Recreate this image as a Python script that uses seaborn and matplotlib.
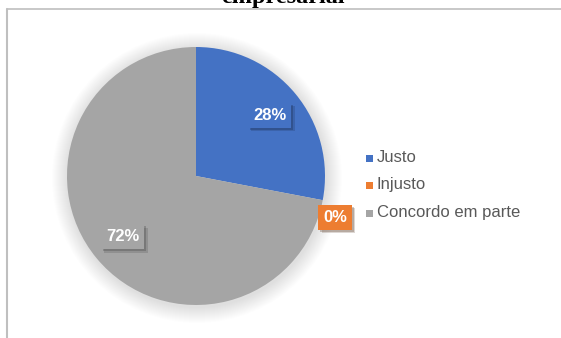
import matplotlib
matplotlib.use("Agg")
import matplotlib.pyplot as plt
import matplotlib.patheffects as pe
from matplotlib.patches import Circle, Rectangle
import seaborn as sns

categories = ["Justo", "Injusto", "Concordo em parte"]
values = [28, 0, 72]
colors = ["#4472C4", "#ED7D31", "#A5A5A5"]
title = "empresarial"

sns.set_theme(style="white")
plt.rcParams['font.family'] = ['Liberation Sans', 'DejaVu Sans']

W, H = 561, 338
fig = plt.figure(figsize=(W / 100, H / 100), dpi=100)
ax = fig.add_axes([0, 0, 1, 1])
ax.set_xlim(0, W)
ax.set_ylim(0, H)
ax.set_aspect('equal')
ax.axis('off')

# chart frame
ax.plot([7, W], [H - 9, H - 9], color="#BFBFBF", lw=1.2)
ax.plot([7, 7], [H - 9, 0], color="#BFBFBF", lw=1.5)

cx, cy, R = 196, H - 176, 129

# soft shadow
for i in range(16):
    ax.add_patch(Circle((cx + 1, cy - 2), R + 16 - i, color="black", alpha=0.009, lw=0, zorder=1))

wedges, texts, autotexts = ax.pie(
    values, colors=colors, startangle=90, counterclock=False,
    center=(cx, cy), radius=R, autopct=lambda p: f"{p:.0f}%", pctdistance=0.74,
    wedgeprops=dict(linewidth=0), textprops=dict(color="white", fontsize=12, fontweight="bold"),
)
for w in wedges:
    w.set_zorder(2)
autotexts[1].set_position((335, H - 217))
for t, c in zip(autotexts, colors):
    t.set_zorder(5)
    t.set_bbox(dict(facecolor=c, edgecolor="none", boxstyle="square,pad=0.3"))
    t.get_bbox_patch().set_path_effects([
        pe.SimplePatchShadow(offset=(2.5, -2.5), alpha=0.18),
        pe.SimplePatchShadow(offset=(1.5, -1.5), alpha=0.25),
        pe.Normal()])

ax.set_xlim(0, W)
ax.set_ylim(0, H)

# legend
ys = [158, 185, 213]
for cat, c, y in zip(categories, colors, ys):
    ax.add_patch(Rectangle((366, H - y - 3.5), 7, 7, color=c, lw=0))
    ax.text(377, H - y, cat, fontsize=12, color="#595959", va="center", ha="left")

# title (cut off at top, as in the reference)
ax.text(283, H - 3, title, fontsize=17.5, fontweight="bold", family="Liberation Serif",
        ha="center", va="baseline", color="black")

fig.savefig("out.png", dpi=100)
